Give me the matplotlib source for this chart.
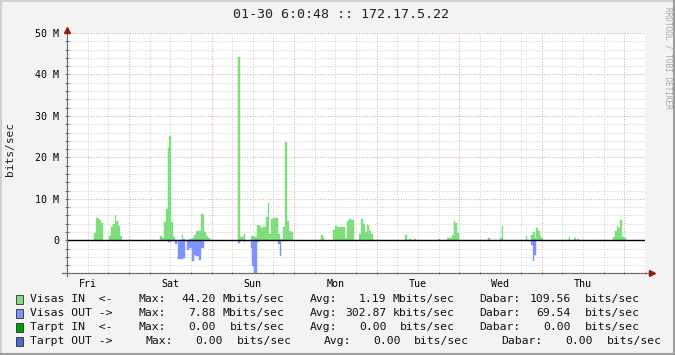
import matplotlib.pyplot as plt
from matplotlib.patches import Rectangle
from matplotlib.lines import Line2D
import numpy as np

# --- data (hours since chart start = Fri 06:00, values in Mbit/s) ---
in_start = [7.8, 8.4, 8.9, 9.4, 9.9,
            12.2, 12.8, 13.3, 13.9, 14.2, 14.7, 15.3,
            26.9, 27.7, 28.2, 28.8, 29.4, 29.7, 30.2, 30.8,
            33.4, 33.7, 35.5, 36.3, 36.9, 37.5, 39.0, 39.5, 39.8, 40.4, 41.0,
            49.7, 50.3, 51.5,
            53.4, 54.4, 55.2, 55.8, 56.4, 57.0, 57.8, 58.4, 58.7, 59.3, 59.9,
            60.5, 61.3, 61.9, 62.8, 63.4, 63.95, 64.5, 65.1,
            73.8, 74.4, 77.3, 77.9, 78.5, 80.8, 81.4, 82.0, 82.6,
            84.9, 85.5, 86.0, 86.6, 87.2, 87.8, 88.4, 89.0,
            98.3, 99.4, 100.9, 107.8, 110.5, 111.9, 112.5, 112.8, 113.4,
            122.4, 125.9, 126.5, 133.4, 134.9, 135.5, 136.0, 136.3, 136.9, 137.5, 137.8,
            145.9, 147.4, 148.3, 149.7,
            158.7, 159.3, 159.9, 160.2, 160.8, 161.3, 161.9]
in_end = [8.4, 8.9, 9.4, 9.9, 10.4,
          12.8, 13.3, 13.9, 14.2, 14.7, 15.3, 15.9,
          27.7, 28.2, 28.8, 29.4, 29.7, 30.2, 30.8, 31.3,
          33.7, 34.3, 36.3, 36.9, 37.5, 39.0, 39.5, 39.8, 40.4, 41.0, 41.6,
          50.3, 51.5, 51.8,
          54.4, 55.2, 55.8, 56.4, 57.0, 57.8, 58.4, 58.7, 59.3, 59.9, 60.5,
          61.3, 61.9, 62.8, 63.4, 63.95, 64.5, 65.1, 65.7,
          74.4, 74.7, 77.9, 78.5, 80.8, 81.4, 82.0, 82.6, 83.4,
          85.5, 86.0, 86.6, 87.2, 87.8, 88.4, 89.0, 89.5,
          98.8, 100.0, 101.5, 108.4, 111.9, 112.5, 112.8, 113.4, 114.0,
          123.0, 126.5, 126.8, 133.7, 135.5, 136.0, 136.3, 136.9, 137.5, 137.8, 138.4,
          146.2, 148.0, 148.8, 150.3,
          159.3, 159.9, 160.2, 160.8, 161.3, 161.9, 162.5]
in_vals = [1.85, 5.4, 5.2, 4.9, 4.2,
           1.05, 3.2, 4.0, 6.1, 4.6, 3.5, 1.0,
           1.05, 0.5, 4.5, 7.6, 22.2, 25.2, 4.5, 0.8,
           1.3, 0.3, 0.3, 0.6, 1.3, 2.25, 6.3, 6.1, 1.9, 1.0, 0.6,
           44.2, 0.8, 1.45,
           1.1, 0.8, 3.7, 3.4, 2.9, 3.1, 5.6, 9.0, 1.45, 5.2, 5.5,
           5.3, 1.45, 0.4, 3.2, 23.8, 4.7, 2.25, 1.9,
           1.3, 0.6, 2.5, 3.5, 3.2, 0.5, 4.7, 5.2, 4.8,
           1.45, 5.2, 4.0, 2.1, 3.7, 2.25, 1.45, 0.15,
           1.3, 0.3, 0.3, 0.3, 0.55, 1.3, 4.7, 4.2, 1.8,
           0.55, 0.5, 3.5, 1.1, 1.4, 1.9, 0.6, 3.0, 2.25, 1.1, 0.55,
           0.8, 0.55, 0.3, 0.15,
           0.8, 2.25, 3.5, 3.0, 4.9, 0.8, 0.6]

out_start = [29.4, 31.4, 32.3, 33.8, 34.9, 35.5, 36.3, 36.9, 37.6, 38.4, 39.0,
             49.7, 51.4, 53.4, 53.8, 54.4, 55.2, 61.3, 61.9,
             134.9, 135.5, 135.8]
out_end = [30.1, 31.9, 33.8, 34.3, 35.5, 36.3, 36.9, 37.6, 38.4, 39.0, 39.8,
           50.3, 51.7, 53.8, 54.4, 55.2, 55.8, 61.9, 62.2,
           135.5, 135.8, 136.3]
out_vals = [0.3, 0.8, 4.4, 4.2, 2.4, 1.8, 4.9, 3.5, 3.9, 4.8, 1.8,
            0.55, 0.3, 1.9, 6.1, 7.88, 0.3, 0.8, 3.9,
            1.05, 4.9, 3.5]

day_labels = ['Fri', 'Sat', 'Sun', 'Mon', 'Tue', 'Wed', 'Thu']
day_noon = [6, 30, 54, 78, 102, 126, 150]
y_ticks = [0, 10, 20, 30, 40, 50]
y_ticklabels = ['0', '10 M', '20 M', '30 M', '40 M', '50 M']

legend_names = ['Visas IN  <-', 'Visas OUT ->', 'Tarpt IN  <-', 'Tarpt OUT ->']
max_vals = ['44.20', '7.88', '0.00', '0.00']
max_units = ['Mbits/sec', 'Mbits/sec', 'bits/sec', 'bits/sec']
avg_vals = ['1.19', '302.87', '0.00', '0.00']
avg_units = ['Mbits/sec', 'kbits/sec', 'bits/sec', 'bits/sec']
dabar_vals = ['109.56', '69.54', '0.00', '0.00']
dabar_units = ['bits/sec', 'bits/sec', 'bits/sec', 'bits/sec']
legend_colors = ['#7EDE7E', '#8092FF', '#00A000', '#4A6ACC']

IN_COLOR = '#7EDE7E'
OUT_COLOR = '#8092FF'
BG = '#F3F3F3'

plt.rcParams['font.family'] = 'DejaVu Sans Mono'

W, H = 675, 355
fig = plt.figure(figsize=(W / 100, H / 100), dpi=100, facecolor=BG)


def fx(x):
    return x / W


def fy(y):
    return 1 - y / H


# plot canvas: x 67..645, y 33..273 pixels
ax = fig.add_axes([fx(67), fy(273), 578 / W, 240 / H])
ax.set_facecolor('white')
ax.set_xlim(0, 168)
ax.set_ylim(-7.88, 50)
for s in ax.spines.values():
    s.set_visible(False)

# grid
dot = (0, (1, 1.5))
for v in np.arange(-6, 50, 2):
    if v % 10 != 0:
        ax.axhline(v, color='#D2D2D2', lw=0.75, ls=dot, zorder=0)
for v in range(10, 51, 10):
    ax.axhline(v, color='#E5A8A8', lw=0.75, ls=dot, zorder=0)
for h in range(6, 169, 6):
    if (h - 18) % 24 == 0:
        ax.axvline(h, color='#E5A8A8', lw=0.75, ls=dot, zorder=0)
    else:
        ax.axvline(h, color='#D2D2D2', lw=0.75, ls=dot, zorder=0)

# areas
in_w = np.array(in_end) - np.array(in_start)
out_w = np.array(out_end) - np.array(out_start)
ax.bar(in_start, in_vals, width=in_w, align='edge', color=IN_COLOR,
       edgecolor=IN_COLOR, linewidth=0.3, zorder=2)
ax.bar(out_start, -np.array(out_vals), width=out_w, align='edge',
       color=OUT_COLOR, edgecolor=OUT_COLOR, linewidth=0.3, zorder=2)

ax.axhline(0, color='black', lw=1.0, zorder=3)

# axes lines and arrows
ax.add_line(Line2D([0, 0], [-0.012, 1.01], transform=ax.transAxes,
                   color='#6E6E6E', lw=0.9, clip_on=False, zorder=4))
ax.add_line(Line2D([-0.008, 1.008], [0, 0], transform=ax.transAxes,
                   color='#6E6E6E', lw=0.9, clip_on=False, zorder=4))
ax.plot([0], [1.012], marker='^', ms=4, color='#9A1A1A', transform=ax.transAxes,
        clip_on=False, zorder=5)
ax.plot([1.012], [0], marker='>', ms=4, color='#9A1A1A', transform=ax.transAxes,
        clip_on=False, zorder=5)

# ticks
ax.set_yticks(y_ticks, y_ticklabels)
ax.set_yticks(np.arange(-6, 50, 2), minor=True)
ax.tick_params(axis='y', which='both', length=3, direction='inout', color='#6E6E6E',
               width=0.7, labelsize=7.2, pad=4)
ax.set_xticks(day_noon, day_labels)
ax.set_xticks(range(0, 169, 6), minor=True)
ax.tick_params(axis='x', which='major', length=0, labelsize=7.2, pad=4)
ax.tick_params(axis='x', which='minor', length=2, direction='inout', color='#6E6E6E',
               width=0.7)

# title and labels
fig.text(fx(341), fy(14), '01-30 6:0:48 :: 172.17.5.22', ha='center', va='center',
         fontsize=9.6, color='#202020')
fig.text(fx(10.5), fy(149), 'bits/sec', rotation=90, ha='center', va='center',
         fontsize=8.1, color='#202020')
fig.text(fx(668), fy(58), 'RRDTOOL / TOBI OETIKER', rotation=270, ha='center',
         va='center', fontsize=5.6, color='#A8A8A8')

# legend
row_y = [299, 313.3, 327.3, 341.3]
shift = [[0, 0, 0], [0, 0, 0], [0, 0, 0], [7.3, 14, 21.5]]
for i in range(4):
    y = fy(row_y[i])
    s1, s2, s3 = shift[i]
    fig.patches.append(Rectangle((fx(15.5), fy(row_y[i] + 4.5)), 7 / W, 9 / H,
                                 transform=fig.transFigure, facecolor=legend_colors[i],
                                 edgecolor='#303030', lw=0.6))
    kw = dict(va='center', fontsize=8.2, color='#101010')
    fig.text(fx(30.3), y, legend_names[i], ha='left', **kw)
    fig.text(fx(138.5 + s1), y, 'Max:', ha='left', **kw)
    fig.text(fx(215.5 + s1), y, max_vals[i], ha='right', **kw)
    ux = 222.8 if max_units[i][0] != 'b' else 229.7
    fig.text(fx(ux + s1), y, max_units[i], ha='left', **kw)
    fig.text(fx(309.4 + s2), y, 'Avg:', ha='left', **kw)
    fig.text(fx(386.4 + s2), y, avg_vals[i], ha='right', **kw)
    ux = 392.9 if avg_units[i][0] != 'b' else 399.8
    fig.text(fx(ux + s2), y, avg_units[i], ha='left', **kw)
    fig.text(fx(479.4 + s3), y, 'Dabar:', ha='left', **kw)
    fig.text(fx(571 + s3), y, dabar_vals[i], ha='right', **kw)
    fig.text(fx(585 + s3), y, dabar_units[i], ha='left', **kw)

# frame around the image
fig.add_artist(Line2D([0, 1], [1 - 1 / H, 1 - 1 / H], color='#CFCFCF', lw=1.5,
                      transform=fig.transFigure))
fig.add_artist(Line2D([1 / W, 1 / W], [0, 1], color='#CFCFCF', lw=1.5,
                      transform=fig.transFigure))
fig.add_artist(Line2D([0, 1], [1 / H, 1 / H], color='#9E9E9E', lw=1.5,
                      transform=fig.transFigure))
fig.add_artist(Line2D([1 - 1 / W, 1 - 1 / W], [0, 1], color='#9E9E9E', lw=1.5,
                      transform=fig.transFigure))

fig.savefig('out.png', dpi=100, facecolor=BG)
